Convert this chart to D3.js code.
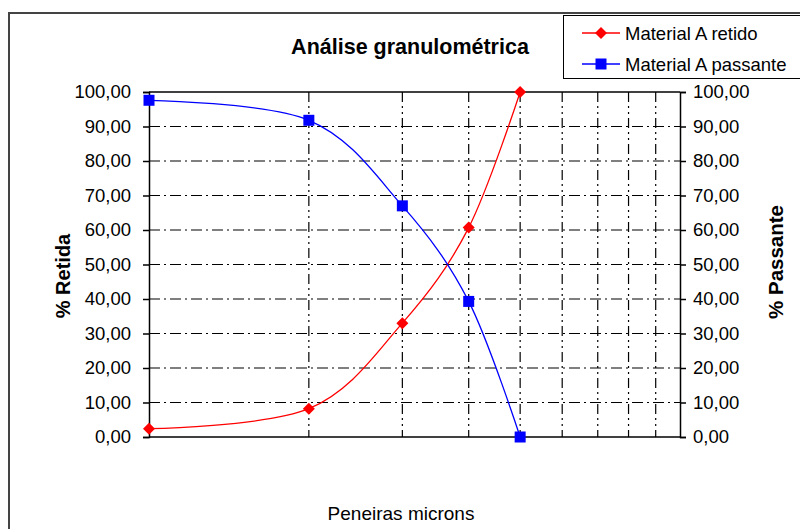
<!DOCTYPE html>
<html>
<head>
  <meta charset="utf-8">
  <title>Análise granulométrica</title>
  <script src="https://d3js.org/d3.v7.min.js"></script>
  <style>
    body { margin: 0; background: #fff; }
    text { font-family: "Liberation Sans", Arial, sans-serif; }
  </style>
</head>
<body>
  <div id="chart"></div>

  <script>
    // sieve positions (log axis, one decade) and the two curves
    const peneiras = [1, 2, 3, 4, 5];
    const retido = [2.4, 8.2, 33.0, 60.7, 100.0];
    const passante = [97.6, 91.8, 67.0, 39.3, 0.0];
    const yTicks = [0, 10, 20, 30, 40, 50, 60, 70, 80, 90, 100];
    const xGrid = [2, 3, 4, 5, 6, 7, 8, 9];

    const W = 800, H = 529;
    const svg = d3.select("#chart").append("svg").attr("width", W).attr("height", H);

    const x = d3.scaleLog().domain([1, 10]).range([149, 680]);
    const y = d3.scaleLinear().domain([0, 100]).range([437, 92]);
    const fmt = d => d.toFixed(2).replace(".", ",");

    // chart frame
    svg.append("rect")
      .attr("x", 9).attr("y", 13)
      .attr("width", W + 10).attr("height", H + 10)
      .attr("fill", "none").attr("stroke", "#444").attr("stroke-width", 2);

    // grid (dash-dot / dash-dot-dot)
    svg.append("g").selectAll("line").data(yTicks.slice(1, -1)).join("line")
      .attr("x1", 149).attr("x2", 680)
      .attr("y1", d => y(d)).attr("y2", d => y(d))
      .attr("stroke", "#000").attr("stroke-width", 1.2).attr("stroke-dasharray", "11,4,2,4");
    svg.append("g").selectAll("line").data(xGrid).join("line")
      .attr("x1", d => x(d)).attr("x2", d => x(d))
      .attr("y1", 92).attr("y2", 437)
      .attr("stroke", "#000").attr("stroke-width", 1.2).attr("stroke-dasharray", "10,4,2,4,2,4");

    // axes
    const left = svg.append("g").attr("transform", "translate(149,0)")
      .call(d3.axisLeft(y).tickValues(yTicks).tickFormat(fmt).tickSize(6).tickPadding(12));
    const right = svg.append("g").attr("transform", "translate(680,0)")
      .call(d3.axisRight(y).tickValues(yTicks).tickFormat(fmt).tickSize(6).tickPadding(7));
    [left, right].forEach(g => {
      g.select(".domain").attr("stroke", "#000").attr("stroke-width", 1.5);
      g.selectAll(".tick line").attr("stroke", "#000").attr("stroke-width", 1.5);
      g.selectAll("text").attr("font-size", 18.5).attr("fill", "#000")
        .attr("font-family", "Liberation Sans, Arial, sans-serif");
    });
    svg.append("line").attr("x1", 149).attr("x2", 680).attr("y1", 92).attr("y2", 92)
      .attr("stroke", "#000").attr("stroke-width", 1.5);
    svg.append("line").attr("x1", 149).attr("x2", 680).attr("y1", 437).attr("y2", 437)
      .attr("stroke", "#000").attr("stroke-width", 1.5);

    // series
    const line = d3.line().x(d => x(d[0])).y(d => y(d[1])).curve(d3.curveCardinal.tension(0));
    const series = [
      { name: "Material A retido", values: retido, color: "#ff0000" },
      { name: "Material A passante", values: passante, color: "#0000ff" }
    ];
    const diamond = d3.symbol().type(d3.symbolSquare).size(72);
    const square = d3.symbol().type(d3.symbolSquare).size(121);
    const marker = (i, tx, ty) => i === 0
      ? `translate(${tx},${ty}) rotate(45)`
      : `translate(${tx},${ty})`;

    series.forEach((s, i) => {
      const pts = peneiras.map((p, j) => [p, s.values[j]]);
      svg.append("path").datum(pts)
        .attr("fill", "none").attr("stroke", s.color).attr("stroke-width", 1.3)
        .attr("d", line);
      svg.append("g").selectAll("path").data(pts).join("path")
        .attr("transform", d => marker(i, x(d[0]), y(d[1])))
        .attr("d", i === 0 ? diamond : square)
        .attr("fill", s.color);
    });

    // titles
    svg.append("text").attr("x", 410).attr("y", 54).attr("text-anchor", "middle")
      .attr("font-size", 21.5).attr("font-weight", "bold").text("Análise granulométrica");
    svg.append("text").attr("x", 401).attr("y", 520).attr("text-anchor", "middle")
      .attr("font-size", 19).text("Peneiras microns");
    svg.append("text").attr("transform", "translate(70,276) rotate(-90)")
      .attr("text-anchor", "middle").attr("font-size", 20).attr("font-weight", "bold")
      .text("% Retida");
    svg.append("text").attr("transform", "translate(783,262) rotate(-90)")
      .attr("text-anchor", "middle").attr("font-size", 20.5).attr("font-weight", "bold")
      .text("% Passante");

    // legend
    const lg = svg.append("g");
    lg.append("rect").attr("x", 563.5).attr("y", 15.5).attr("width", 250).attr("height", 63)
      .attr("fill", "#fff").attr("stroke", "#000");
    series.forEach((s, i) => {
      const ly = 33 + i * 31;
      lg.append("line").attr("x1", 582).attr("x2", 620).attr("y1", ly).attr("y2", ly)
        .attr("stroke", s.color).attr("stroke-width", 1.3);
      lg.append("path").attr("transform", marker(i, 601, ly))
        .attr("d", i === 0 ? diamond : square).attr("fill", s.color);
      lg.append("text").attr("x", 625).attr("y", ly + 6.5).attr("font-size", 18.5)
        .text(s.name);
    });
  </script>
</body>
</html>
